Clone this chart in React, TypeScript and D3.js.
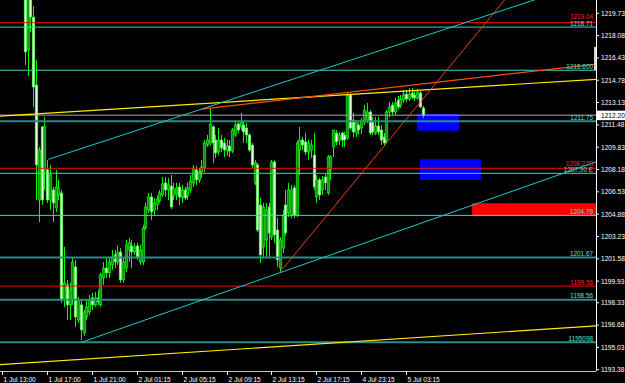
import React from 'react';
import * as d3 from 'd3';

// ---------- DATA ----------
const START_INDEX = 8; // bar index of first candle (bar 0 = 1 Jul 13:00)

const opens = [1222.93,1217.02,1221.08,1219.45,1214.43,1205.93,1211.33,1208.15,1208.15,1205.93,1206.67,1205.34,1206.30,1206.45,1198.54,1199.65,1198.17,1198.54,1200.98,1197.06,1198.17,1196.10,1197.28,1197.65,1198.69,1198.17,1198.69,1198.17,1200.17,1200.90,1200.54,1201.13,1201.87,1201.35,1202.09,1200.02,1200.90,1202.23,1202.53,1202.09,1202.53,1201.35,1201.35,1203.86,1205.19,1206.15,1205.19,1205.56,1205.86,1206.30,1207.19,1206.67,1206.96,1206.23,1206.37,1206.89,1206.08,1206.67,1206.23,1206.67,1207.19,1208.15,1207.41,1208.00,1208.29,1209.99,1210.14,1211.33,1210.36,1209.48,1210.36,1210.14,1209.55,1209.92,1209.55,1210.73,1211.55,1211.33,1211.47,1211.25,1210.73,1209.99,1207.19,1208.52,1205.56,1202.46,1202.97,1205.41,1203.19,1208.74,1203.71,1200.90,1202.38,1205.56,1204.97,1204.82,1206.82,1204.82,1209.62,1210.36,1210.22,1209.48,1209.62,1209.25,1206.15,1207.41,1206.67,1207.63,1206.45,1208.15,1209.85,1210.88,1210.36,1210.88,1210.73,1210.51,1213.69,1211.84,1210.88,1211.47,1211.25,1211.69,1211.84,1212.43,1211.69,1210.88,1211.40,1211.10,1210.59,1210.36,1212.43,1212.95,1212.43,1213.32,1212.95,1213.32,1213.76,1213.39,1213.84,1213.69,1213.47,1213.84,1212.73];
const highs = [1223.67,1222.19,1221.82,1220.27,1216.28,1209.85,1211.40,1212.06,1208.89,1208.52,1206.89,1208.15,1207.41,1206.67,1202.46,1200.02,1199.80,1201.64,1201.50,1198.76,1198.54,1197.80,1198.54,1198.91,1199.06,1199.13,1199.28,1200.54,1201.35,1201.64,1201.72,1202.23,1202.23,1202.53,1202.38,1201.64,1202.97,1203.12,1202.97,1202.75,1202.75,1202.60,1204.08,1205.71,1206.45,1206.45,1206.08,1206.23,1206.67,1207.63,1207.63,1207.56,1207.78,1207.19,1207.19,1207.19,1207.04,1206.89,1207.19,1207.78,1208.52,1208.44,1208.29,1208.89,1210.36,1210.73,1212.73,1211.47,1210.73,1211.25,1210.73,1210.51,1210.36,1210.36,1211.25,1211.69,1211.69,1212.36,1211.77,1211.62,1210.88,1210.14,1208.89,1208.66,1206.08,1205.71,1205.71,1205.71,1208.89,1208.89,1204.60,1203.19,1205.19,1206.67,1207.19,1207.04,1207.04,1210.29,1211.33,1210.59,1210.88,1210.36,1210.36,1210.88,1207.78,1207.56,1207.70,1207.85,1209.25,1209.25,1211.10,1211.10,1210.96,1210.96,1210.96,1213.91,1213.84,1212.36,1211.84,1211.62,1211.99,1212.95,1213.10,1212.58,1212.06,1212.06,1212.06,1211.47,1210.88,1212.58,1213.17,1213.17,1213.47,1213.62,1213.69,1214.06,1214.06,1214.21,1214.21,1214.06,1214.13,1213.99,1212.88];
const lows = [1215.91,1215.09,1218.34,1212.80,1205.93,1204.30,1205.56,1206.67,1205.71,1205.19,1204.30,1205.04,1205.93,1198.32,1198.02,1197.06,1197.06,1198.17,1196.54,1196.84,1195.58,1195.88,1197.06,1197.43,1197.80,1198.02,1198.17,1198.02,1199.65,1200.17,1200.17,1200.76,1200.90,1201.13,1199.80,1199.80,1200.61,1201.35,1200.90,1201.87,1201.50,1201.13,1201.13,1203.71,1204.97,1204.45,1204.82,1205.19,1205.71,1206.15,1206.15,1205.93,1205.26,1205.93,1205.93,1205.56,1205.71,1205.93,1205.93,1206.45,1206.89,1207.04,1207.19,1207.56,1208.00,1209.85,1209.92,1208.66,1209.03,1209.25,1209.48,1209.11,1209.18,1209.11,1209.40,1210.59,1210.88,1211.10,1210.14,1210.14,1209.48,1208.29,1207.04,1203.56,1201.27,1201.72,1201.72,1201.72,1202.97,1202.75,1200.98,1200.54,1202.01,1203.27,1204.67,1204.60,1204.60,1204.67,1207.78,1209.62,1209.25,1208.89,1209.03,1206.67,1205.71,1205.93,1206.30,1206.67,1206.30,1207.41,1209.11,1209.99,1209.99,1209.85,1209.85,1210.36,1211.10,1210.59,1210.59,1210.73,1210.81,1211.47,1211.62,1210.73,1210.73,1210.73,1210.73,1209.99,1209.92,1210.14,1212.06,1212.21,1212.21,1212.58,1212.73,1213.10,1213.17,1213.25,1213.39,1213.25,1213.32,1212.73,1211.99];
const closes = [1216.87,1221.45,1219.45,1214.28,1208.52,1209.62,1205.93,1211.33,1205.93,1207.78,1205.71,1206.89,1206.82,1198.54,1199.80,1198.17,1199.28,1201.35,1197.28,1198.54,1196.32,1197.58,1198.02,1198.54,1198.17,1198.69,1198.39,1200.39,1200.90,1200.54,1201.35,1201.72,1201.35,1202.01,1200.02,1201.35,1202.60,1202.75,1202.09,1202.46,1201.72,1202.23,1203.86,1205.41,1206.15,1205.04,1205.71,1206.00,1206.45,1207.11,1206.67,1207.04,1205.41,1206.74,1206.82,1206.15,1206.67,1206.08,1206.82,1207.33,1208.29,1207.41,1208.00,1208.37,1210.14,1210.36,1211.55,1210.14,1209.40,1210.36,1209.77,1209.62,1209.92,1209.55,1211.10,1211.47,1211.10,1211.69,1210.96,1210.73,1209.62,1208.52,1208.66,1203.71,1201.87,1205.41,1205.19,1203.49,1208.74,1203.34,1201.50,1202.97,1204.82,1203.49,1206.67,1206.67,1204.82,1210.14,1210.36,1209.99,1209.48,1210.14,1209.99,1206.89,1207.41,1206.30,1207.41,1207.19,1209.11,1209.11,1211.10,1210.22,1210.73,1210.36,1210.36,1213.69,1211.25,1210.96,1211.62,1211.10,1211.77,1212.58,1212.43,1210.88,1210.96,1211.40,1210.96,1210.36,1210.14,1212.43,1212.80,1212.43,1213.10,1212.80,1213.39,1213.69,1213.39,1213.76,1213.54,1213.47,1213.91,1212.80,1212.20];

const timeTickIndex = [0, 16, 32, 48, 64, 80, 96, 112, 128, 144];
const timeTickLabels = ['1 Jul 13:00', '1 Jul 17:00', '1 Jul 21:00', '2 Jul 01:15', '2 Jul 05:15', '2 Jul 09:15', '2 Jul 13:15', '2 Jul 17:15', '4 Jul 23:15', '5 Jul 03:15'];

const priceTickLabels = ['1219.73','1218.08','1216.43','1214.78','1213.13','1211.48','1209.83','1208.18','1206.53','1204.88','1203.23','1201.58','1199.93','1198.33','1196.68','1195.03','1193.38'];

const levelPrices = [1219.04, 1218.71, 1215.52, 1211.75, 1208.27, 1207.90, 1204.79, 1201.67, 1199.56, 1198.56, 1195.41];
const levelLabels = ['1219.04', '1218.71', '1215.600', '1211.75', '1208.27B', '1207.90 E', '1204.79', '1201.67', '1199.56', '1198.56', '1195098'];
const levelKinds = ['red', 'cyan', 'cyan', 'teal', 'red', 'cyan', 'cyan', 'teal', 'red', 'teal', 'teal'];

// trend lines: [barIndex1, price1, barIndex2, price2]
const trendYellow = [[-0.86, 1212.13, 211.8, 1214.85], [-0.86, 1193.75, 211.8, 1196.62]];
const trendOrange = [[71, 1212.65, 211.8, 1215.98], [99, 1200.58, 141.85, 1211.34]];
const trendCyan = [[16.4, 1208.93, 145.4, 1217.70], [28.3, 1195.41, 183.2, 1206.67]];

// rectangles: [barIndex1, price1, barIndex2, price2]
const blueZones = [[147.9, 1212.29, 162.9, 1211.05], [149.0, 1208.94, 170.7, 1207.41]];
const redZones = [[167.6, 1205.69, 212.5, 1204.75]];

// ---------- STYLE ----------
const kindColor: Record<string, string> = { red: '#e8100c', cyan: '#3cd6cc', teal: '#2a8c88' };
const kindWidth: Record<string, number> = { red: 1, cyan: 1, teal: 2 };
const FONT = '"Liberation Sans", Arial, sans-serif';

export default function App() {
  const W = 625, H = 383, plotR = 596, plotB = 371;
  const x = d3.scaleLinear().domain([0, 144]).range([2.4, 406]);
  const y = d3.scaleLinear().domain([1193.38, 1219.73]).range([369.7, 13.3]);

  const candles = opens.map((o, k) => ({ i: START_INDEX + k, o, h: highs[k], l: lows[k], c: closes[k] }));
  const lastClose = closes[closes.length - 1];

  // label baselines: just above each line, nudged up if the next line's label sits too close
  const labelY = levelPrices.map((p, k) => {
    let b = y(p) - 1.5;
    const next = levelPrices[k + 1];
    if (next !== undefined) {
      const nb = y(next) - 1.5;
      if (nb - b < 6.2) b = nb - 6.2;
    }
    return b;
  });

  const ray = (t: number[], full: boolean) => {
    const x1 = x(t[0]), y1 = y(t[1]), x2 = x(t[2]), y2 = y(t[3]);
    const s = (y2 - y1) / (x2 - x1);
    const xs = full ? -10 : x1;
    const xe = 700;
    return { x1: xs, y1: y1 + s * (xs - x1), x2: xe, y2: y1 + s * (xe - x1) };
  };

  const rect = (r: number[]) => {
    const xa = x(r[0]), xb = x(r[2]), ya = y(r[1]), yb = y(r[3]);
    return { x: Math.min(xa, xb), y: Math.min(ya, yb), w: Math.abs(xb - xa), h: Math.abs(yb - ya) };
  };

  return (
    <svg width={W} height={H} style={{ position: 'fixed', left: 0, top: 0, background: '#000' }}>
      <defs>
        <clipPath id="plot"><rect x={0} y={0} width={plotR} height={plotB} /></clipPath>
      </defs>
      <rect x={0} y={0} width={W} height={H} fill="#000" />
      <g clipPath="url(#plot)">
        {blueZones.map((r, k) => { const b = rect(r); return <rect key={'b' + k} x={b.x} y={b.y} width={b.w} height={b.h} fill="#0000ff" />; })}
        {redZones.map((r, k) => { const b = rect(r); return <rect key={'r' + k} x={b.x} y={b.y} width={b.w} height={b.h} fill="#ff0000" />; })}
        {/* candles */}
        {candles.map((d) => {
          const cx = Math.round(x(d.i)) + 0.5;
          const bull = d.c >= d.o;
          const top = y(Math.max(d.o, d.c)), bot = y(Math.min(d.o, d.c));
          return (
            <g key={'c' + d.i}>
              <line x1={cx} x2={cx} y1={y(d.h)} y2={y(d.l)} stroke="#00ff00" strokeWidth={1} />
              <rect x={cx - 1.3} y={top} width={2.6} height={Math.max(1, bot - top)}
                fill={bull ? '#0c8f0c' : '#e6ffe0'} stroke="#22ff22" strokeWidth={0.6} />
            </g>
          );
        })}
        {/* horizontal levels */}
        {levelPrices.map((p, k) => (
          <line key={'l' + k} x1={0} x2={plotR} y1={y(p)} y2={y(p)} stroke={kindColor[levelKinds[k]]} strokeWidth={kindWidth[levelKinds[k]]} />
        ))}
        <line x1={0} x2={plotR} y1={y(lastClose)} y2={y(lastClose)} stroke="#a8a8a8" strokeWidth={1} />
        {/* trend lines */}
        {trendYellow.map((t, k) => { const r = ray(t, true); return <line key={'y' + k} {...r} stroke="#ffee00" strokeWidth={1.2} />; })}
        {trendOrange.map((t, k) => { const r = ray(t, false); return <line key={'o' + k} {...r} stroke="#ff4a10" strokeWidth={k === 0 ? 1.2 : 0.9} />; })}
        {trendCyan.map((t, k) => { const r = ray(t, false); return <line key={'cy' + k} {...r} stroke="#20c8c8" strokeWidth={1} />; })}
        {/* level labels */}
        {levelPrices.map((p, k) => (
          <text key={'t' + k} x={593} y={labelY[k]} textAnchor="end" fontFamily={FONT} fontSize={6.4}
            fill={levelKinds[k] === 'red' ? '#ff2020' : '#5ce0d8'}>{levelLabels[k]}</text>
        ))}
        <rect x={594} y={47} width={2} height={23} fill="#d8d8d8" />
      </g>
      {/* axes */}
      <line x1={plotR + 0.5} x2={plotR + 0.5} y1={0} y2={plotB} stroke="#ffffff" strokeWidth={1} />
      <line x1={0} x2={plotR} y1={plotB + 0.5} y2={plotB + 0.5} stroke="#c0c0c0" strokeWidth={1} />
      {priceTickLabels.map((s) => {
        const ty = y(+s);
        return (
          <g key={'pt' + s}>
            <line x1={plotR} x2={plotR + 3} y1={ty} y2={ty} stroke="#fff" />
            <text x={601} y={ty + 2.4} fontFamily={FONT} fontSize={6.6} fill="#fff">{s}</text>
          </g>
        );
      })}
      <rect x={597} y={y(lastClose) - 4.5} width={28} height={9.5} fill="#fff" />
      <text x={601} y={y(lastClose) + 2.4} fontFamily={FONT} fontSize={6.6} fill="#000">{lastClose.toFixed(2)}</text>
      {timeTickIndex.map((ti, k) => {
        const tx = Math.round(x(ti)) + 0.5;
        return (
          <g key={'tt' + ti}>
            <line x1={tx} x2={tx} y1={plotB} y2={plotB + 4} stroke="#fff" />
            <text x={tx + 1} y={381.5} fontFamily={FONT} fontSize={6.6} fill="#fff">{timeTickLabels[k]}</text>
          </g>
        );
      })}
    </svg>
  );
}
